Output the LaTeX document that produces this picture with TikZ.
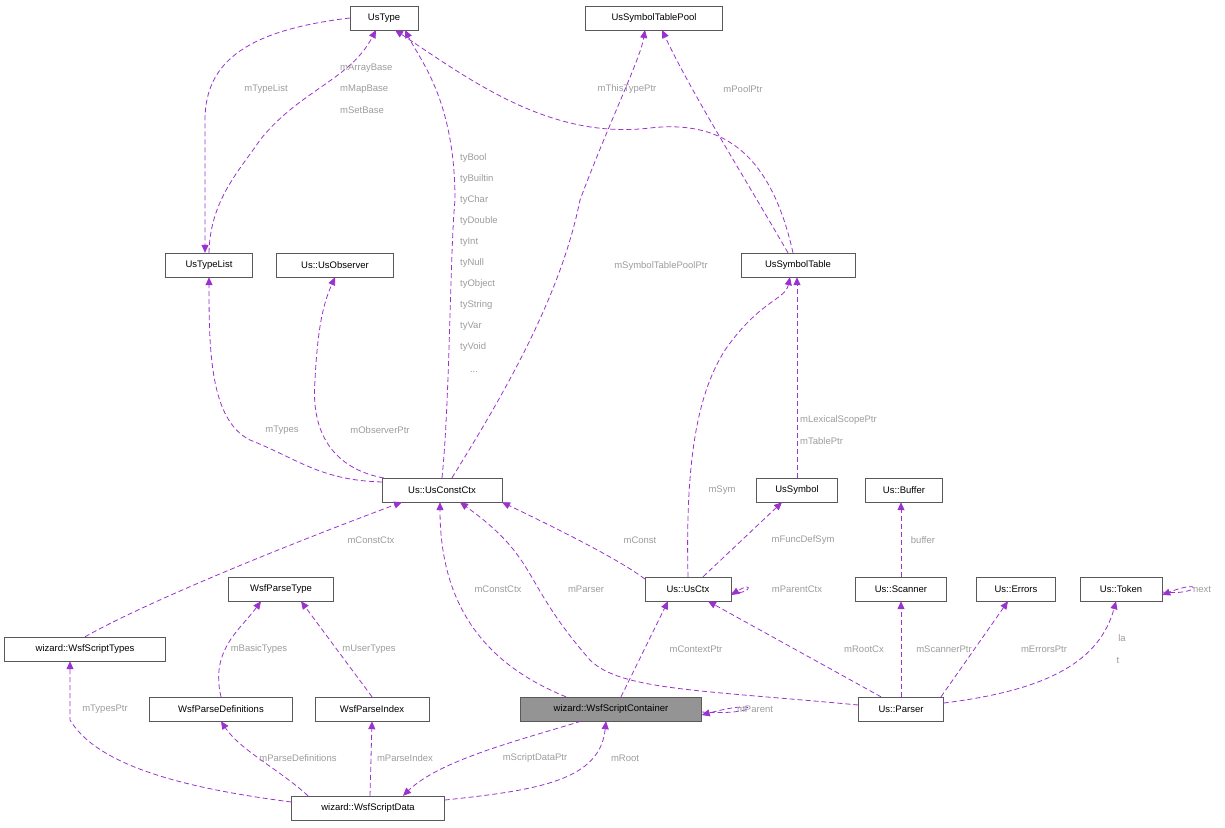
\documentclass[tikz,border=0pt]{standalone}
\usepackage{fontspec}
\setmainfont{Liberation Sans}
\usetikzlibrary{arrows.meta}
\definecolor{ed}{HTML}{9A32CD}
\definecolor{lb}{HTML}{9C9C9C}
\begin{document}
\begin{tikzpicture}[x=1pt,y=-1pt,
 box/.style={draw=black!65,fill=white,minimum height=24pt,inner sep=0pt,font=\fontsize{9.5}{11}\selectfont},
 e/.style={draw=ed,dashed,line width=0.8pt,dash pattern=on 5pt off 3pt,-{Triangle[length=8pt,width=7pt]}},
 l/.style={text=lb,font=\fontsize{9.5}{11}\selectfont,inner sep=0pt}]
\useasboundingbox (0,0) rectangle (1225,827);
\node[box,minimum width=68pt] (type) at (384,18) {UsType};
\node[box,minimum width=137pt] (pool) at (654,18) {UsSymbolTablePool};
\node[box,minimum width=87pt] (tl) at (209,265) {UsTypeList};
\node[box,minimum width=117pt] (obs) at (335,265) {Us::UsObserver};
\node[box,minimum width=114pt] (st) at (798,265) {UsSymbolTable};
\node[box,minimum width=120pt] (cc) at (442,490) {Us::UsConstCtx};
\node[box,minimum width=81pt] (sym) at (797,490) {UsSymbol};
\node[box,minimum width=77pt] (buf) at (904,490) {Us::Buffer};
\node[box,minimum width=105pt] (pt) at (281,589) {WsfParseType};
\node[box,minimum width=86pt] (ctx) at (688,589) {Us::UsCtx};
\node[box,minimum width=91pt] (sc) at (901,589) {Us::Scanner};
\node[box,minimum width=79pt] (err) at (1016,589) {Us::Errors};
\node[box,minimum width=82pt] (tok) at (1121,589) {Us::Token};
\node[box,minimum width=161pt] (wst) at (85,649) {wizard::WsfScriptTypes};
\node[box,minimum width=143pt] (pd) at (221,709) {WsfParseDefinitions};
\node[box,minimum width=114pt] (pi) at (372,709) {WsfParseIndex};
\node[box,minimum width=181pt,fill=black!42] (wsc) at (611,709) {wizard::WsfScriptContainer};
\node[box,minimum width=85pt] (par) at (901,709) {Us::Parser};
\node[box,minimum width=153pt] (wsd) at (368,808) {wizard::WsfScriptData};

\draw[e] (type.west) .. controls (250,30) and (205,60) .. (205,120) -- (tl.north-|205,0);
\draw[e] (tl.north) .. controls (210,200) and (240,170) .. (260,140) .. controls (300,90) and (350,80) .. (376,30);
\draw[e] (cc.north) .. controls (450,400) and (450,250) .. (455,200) .. controls (455,100) and (420,60) .. (405,30);
\draw[e] (cc.north) ++(10,0) .. controls (500,400) and (560,300) .. (580,200) .. controls (610,120) and (640,60) .. (645,30);
\draw[e] (st.north) ++(-10,0) .. controls (740,170) and (690,90) .. (662,30);
\draw[e] (st.north) ++(-5,0) .. controls (770,150) and (720,120) .. (650,128) .. controls (550,140) and (470,80) .. (395,30);
\draw[e] (cc.west) ++(0,-8) .. controls (320,480) and (300,460) .. (250,440) .. controls (210,420) and (209,350) .. (tl.south);
\draw[e] (cc.west) ++(2,-12) .. controls (340,470) and (310,440) .. (315,380) .. controls (318,320) and (325,300) .. (obs.south);
\draw[e] (sym.north) -- (st.south-|sym.north);
\draw[e] (ctx.north) .. controls (685,450) and (700,390) .. (725,350) .. controls (760,300) and (785,300) .. ([xshift=-8pt]st.south);
\draw[e] (ctx.west) ++(0,-10) .. controls (620,560) and (560,530) .. ([xshift=60pt]cc.south);
\draw[e] ([xshift=15pt]ctx.north) -- ([xshift=-15pt]sym.south);
\draw[e] (ctx.east) ++(0,3) .. controls (750,596) and (755,580) .. ([yshift=-6pt]ctx.east);
\draw[e] (sc.north) -- (buf.south-|sc.north);
\draw[e] (tok.east) ++(0,3) .. controls (1200,596) and (1205,578) .. ([yshift=-6pt]tok.east);
\draw[e] (wst.north) .. controls (150,600) and (300,540) .. ([xshift=-40pt]cc.south);
\draw[e] (pd.north) .. controls (210,650) and (240,630) .. ([xshift=-20pt]pt.south);
\draw[e] (pi.north) -- ([xshift=20pt]pt.south);
\draw[e] ([xshift=-45pt]wsc.north) .. controls (500,670) and (440,620) .. ([xshift=-2pt]cc.south);
\draw[e] (par.west) ++(0,-4) .. controls (700,690) and (620,690) .. (590,660) .. controls (520,580) and (540,560) .. ([xshift=18pt]cc.south);
\draw[e] ([xshift=10pt]wsc.north) -- ([xshift=-20pt]ctx.south);
\draw[e] ([xshift=-20pt]par.north) -- ([xshift=20pt]ctx.south);
\draw[e] (par.north) -- (sc.south);
\draw[e] ([xshift=40pt]par.north) -- ([xshift=-8pt]err.south);
\draw[e] (par.east) ++(0,-6) .. controls (1050,690) and (1100,660) .. ([xshift=-5pt]tok.south);
\draw[e] (wsc.east) ++(0,3) .. controls (760,716) and (765,698) .. ([yshift=-6pt]wsc.east);
\draw[e] (wsd.west) ++(0,-6) .. controls (200,790) and (100,770) .. (70,720) -- ([xshift=-15pt]wst.south);
\draw[e] ([xshift=-60pt]wsd.north) .. controls (280,770) and (240,750) .. (pd.south);
\draw[e] ([xshift=2pt]wsd.north) -- (pi.south);
\draw[e] ([xshift=-30pt]wsc.south) .. controls (520,740) and (440,760) .. ([xshift=35pt]wsd.north);
\draw[e] (wsd.east) ++(0,-8) .. controls (540,790) and (600,780) .. ([xshift=-5pt]wsc.south);

\node[l] (a1) at (266,89) {mTypeList};
\node[l,anchor=west] (a2) at (340,68) {mArrayBase};
\node[l,anchor=west] (a3) at (340,89) {mMapBase};
\node[l,anchor=west] (a4) at (340,110) {mSetBase};
\foreach \t [count=\i] in {tyBool,tyBuiltin,tyChar,tyDouble,tyInt,tyNull,tyObject,tyString,tyVar,tyVoid}
  \node[l,anchor=west] (ty\i) at (460,137+21*\i) {\t};
\node[l] (dots) at (474,372) {...};
\node[l] (a5) at (627,89) {mThisTypePtr};
\node[l] (a6) at (743,89) {mPoolPtr};
\node[l] (a7) at (661,266) {mSymbolTablePoolPtr};
\node[l] (a8) at (282,430) {mTypes};
\node[l] (a9) at (380,430) {mObserverPtr};
\node[l,anchor=west] (a10) at (800,420) {mLexicalScopePtr};
\node[l,anchor=west] (a11) at (800,441) {mTablePtr};
\node[l] (a12) at (722,490) {mSym};
\node[l] (a13) at (640,540) {mConst};
\node[l] (a14) at (803,540) {mFuncDefSym};
\node[l] (a15) at (923,540) {buffer};
\node[l] (a16) at (371,540) {mConstCtx};
\node[l] (a17) at (797,589) {mParentCtx};
\node[l] (a18) at (1202,589) {next};
\node[l] (a19) at (259,649) {mBasicTypes};
\node[l] (a20) at (369,649) {mUserTypes};
\node[l] (a21) at (498,589) {mConstCtx};
\node[l] (a22) at (586,589) {mParser};
\node[l] (a23) at (696,649) {mContextPtr};
\node[l] (a24) at (864,649) {mRootCx};
\node[l] (a25) at (944,649) {mScannerPtr};
\node[l] (a26) at (1044,649) {mErrorsPtr};
\node[l] (a27) at (1122,638) {la};
\node[l] (a28) at (1118,660) {t};
\node[l] (a29) at (755,709) {mParent};
\node[l] (a30) at (105,709) {mTypesPtr};
\node[l] (a31) at (298,758) {mParseDefinitions};
\node[l] (a32) at (405,758) {mParseIndex};
\node[l] (a33) at (535,758) {mScriptDataPtr};
\node[l] (a34) at (625,758) {mRoot};
\end{tikzpicture}
\end{document}
